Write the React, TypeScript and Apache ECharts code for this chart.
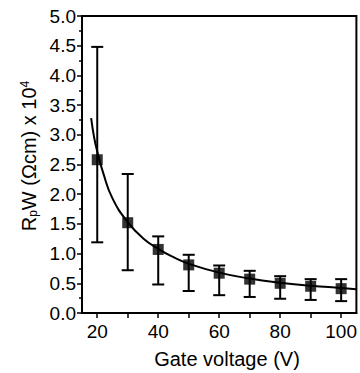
import React, { useEffect, useRef } from "react";
import * as echarts from "echarts";

const gateVoltage = [20, 30, 40, 50, 60, 70, 80, 90, 100];
const resistance = [2.58, 1.52, 1.07, 0.81, 0.67, 0.57, 0.5, 0.45, 0.41];
const errLow = [1.19, 0.72, 0.48, 0.37, 0.3, 0.27, 0.24, 0.22, 0.2];
const errHigh = [4.48, 2.34, 1.29, 0.98, 0.8, 0.71, 0.62, 0.57, 0.57];
const fitX = [18, 19, 20, 22, 25, 30, 35, 40, 45, 50, 60, 70, 80, 90, 100, 105];
const fitY = [3.28, 2.95, 2.72, 2.35, 1.93, 1.53, 1.26, 1.08, 0.94, 0.83, 0.68, 0.58, 0.51, 0.46, 0.42, 0.4];
const xTicks = [20, 30, 40, 50, 60, 70, 80, 90, 100];
const xLabels = [20, 40, 60, 80, 100];

const FONT = "Liberation Sans, Arial, sans-serif";

export default function App() {
  const ref = useRef<HTMLDivElement>(null);
  useEffect(() => {
    if (!ref.current) return;
    const chart = echarts.init(ref.current, undefined, { renderer: "svg" });
    chart.setOption({
      animation: false,
      backgroundColor: "#fff",
      grid: {
        left: 82,
        right: 3,
        top: 16,
        bottom: 60,
        show: true,
        borderColor: "#000",
        borderWidth: 2,
        backgroundColor: "transparent",
      },
      xAxis: {
        type: "value",
        min: 15,
        max: 105,
        axisLine: { show: true, lineStyle: { color: "#000", width: 2 } },
        axisTick: {
          show: true,
          customValues: xTicks,
          length: 5,
          inside: false,
          lineStyle: { color: "#000", width: 1.5 },
        },
        axisLabel: {
          customValues: xLabels,
          color: "#000",
          fontFamily: FONT,
          fontSize: 19,
          margin: 9,
        },
        splitLine: { show: false },
      },
      yAxis: {
        type: "value",
        min: 0,
        max: 5,
        interval: 0.5,
        axisLine: { show: true, lineStyle: { color: "#000", width: 2 } },
        axisTick: { show: true, length: 5, lineStyle: { color: "#000", width: 1.5 } },
        minorTick: { show: true, splitNumber: 2, length: 3, lineStyle: { color: "#000", width: 1.5 } },
        axisLabel: {
          color: "#000",
          fontFamily: FONT,
          fontSize: 19,
          margin: 6,
          formatter: (v: number) => v.toFixed(1),
        },
        splitLine: { show: false },
      },
      graphic: [
        {
          type: "text",
          x: 227,
          y: 359,
          style: {
            text: "Gate voltage (V)",
            fontFamily: FONT,
            fontSize: 20,
            fill: "#000",
            textAlign: "center",
            textVerticalAlign: "middle",
          },
        },
        {
          type: "text",
          x: 29,
          y: 156,
          rotation: Math.PI / 2,
          style: {
            text: "R{sub|p}W (Ωcm) x 10{sup|4}",
            fontFamily: FONT,
            fontSize: 20,
            fill: "#000",
            textAlign: "center",
            textVerticalAlign: "middle",
            rich: {
              sub: { fontSize: 12, fontFamily: FONT, fill: "#000", verticalAlign: "bottom", lineHeight: 12 },
              sup: { fontSize: 12, fontFamily: FONT, fill: "#000", verticalAlign: "top", lineHeight: 12 },
            },
          },
        },
      ],
      series: [
        {
          type: "line",
          data: fitX.map((x, i) => [x, fitY[i]]),
          smooth: true,
          showSymbol: false,
          lineStyle: { color: "#000", width: 2 },
          z: 2,
        },
        {
          type: "custom",
          data: gateVoltage.map((x, i) => [x, errLow[i], errHigh[i]]),
          renderItem: (params: any, api: any) => {
            const x = api.value(0);
            const lo = api.coord([x, api.value(1)]);
            const hi = api.coord([x, api.value(2)]);
            const cap = 6;
            const style = { stroke: "#000", lineWidth: 2 };
            return {
              type: "group",
              children: [
                { type: "line", shape: { x1: lo[0], y1: lo[1], x2: hi[0], y2: hi[1] }, style },
                { type: "line", shape: { x1: hi[0] - cap, y1: hi[1], x2: hi[0] + cap, y2: hi[1] }, style },
                { type: "line", shape: { x1: lo[0] - cap, y1: lo[1], x2: lo[0] + cap, y2: lo[1] }, style },
              ],
            };
          },
          z: 3,
        },
        {
          type: "scatter",
          data: gateVoltage.map((x, i) => [x, resistance[i]]),
          symbol: "rect",
          symbolSize: 11,
          itemStyle: { color: "#000" },
          z: 4,
        },
      ],
    });
    return () => chart.dispose();
  }, []);
  return (
    <div
      ref={ref}
      style={{ position: "fixed", left: 0, top: 0, width: 360, height: 373 }}
    />
  );
}
